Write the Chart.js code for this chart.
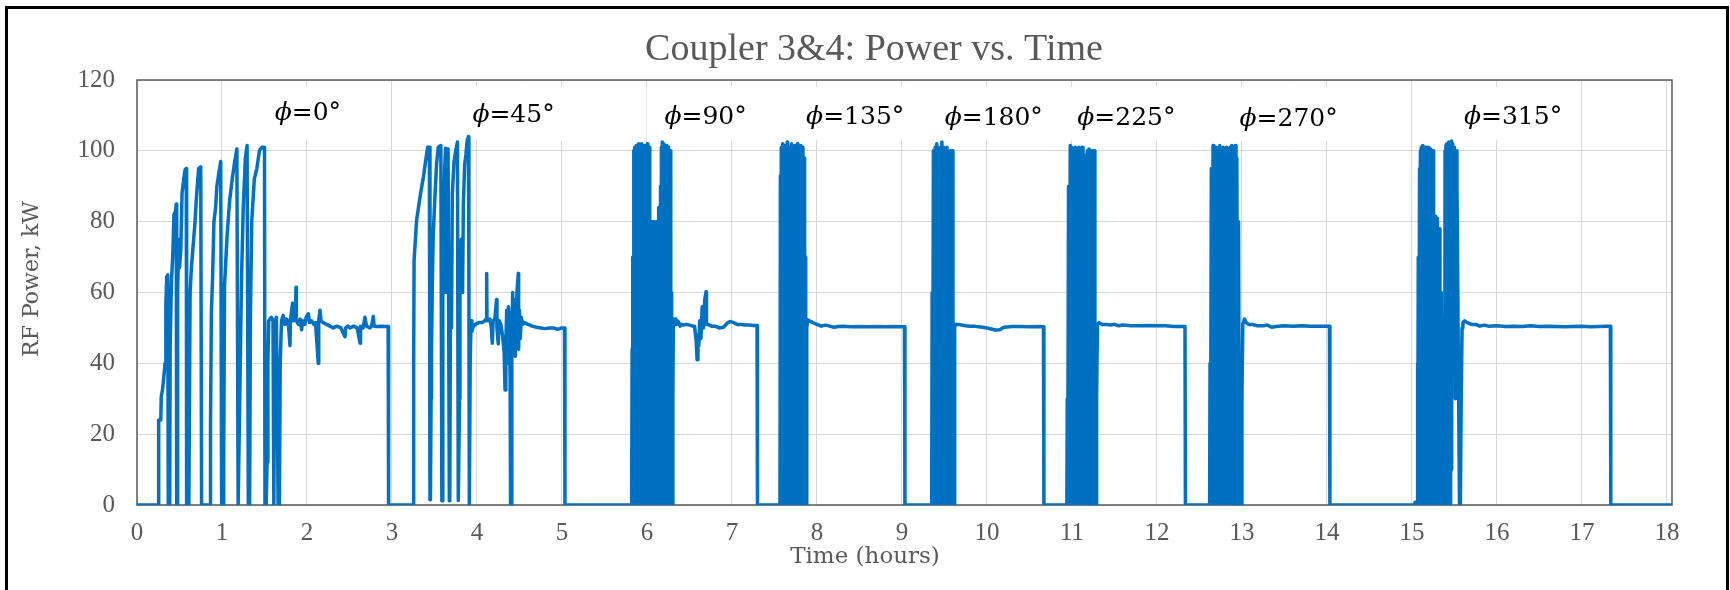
<!DOCTYPE html>
<html>
<head>
<meta charset="utf-8">
<title>Coupler 3&amp;4: Power vs. Time</title>
<script src="https://cdn.jsdelivr.net/npm/chart.js@4.4.1/dist/chart.umd.min.js"></script>
<style>
  html, body { margin: 0; padding: 0; background: #fff; overflow: hidden; }
  #wrap { position: relative; width: 1730px; height: 590px; }
  #frame { position: absolute; left: 5px; top: 6px; width: 1718px; height: 640px; border: 3px solid #000; pointer-events: none; }
  canvas { position: absolute; left: 0; top: 0; }
</style>
</head>
<body>
<div id="wrap">
  <canvas id="mycanvas" width="1730" height="590"></canvas>
  <div id="frame"></div>
</div>
<script>
// [hours, kW], one array per phase run
var run0 = [
  [0,0],[0.25,0],[0.255,24],[0.28,24],[0.285,30.6],[0.30,32.5],[0.315,36],[0.33,40],[0.34,57],[0.35,64.5],[0.362,65],[0.368,0],
  [0.385,0],[0.39,45],[0.405,63],[0.42,70],[0.435,82],[0.455,83],[0.462,85],[0.467,0],
  [0.475,0],[0.478,60],[0.49,75],[0.50,67],[0.515,72],[0.53,88],[0.55,92],[0.565,94.6],[0.58,95],[0.584,0],
  [0.61,0],[0.62,41],[0.625,60],[0.64,67],[0.66,73],[0.68,79],[0.70,87],[0.725,95],[0.75,95.5],[0.76,0],
  [0.86,0],[0.865,22],[0.875,54],[0.89,65],[0.905,80],[0.925,84],[0.94,90],[0.965,94],[0.985,97],[0.996,0],
  [1.015,0],[1.02,13],[1.03,62],[1.06,76],[1.09,86],[1.12,92],[1.15,97],[1.175,100.5],[1.19,0],
  [1.20,0],[1.215,40],[1.23,64],[1.25,84],[1.275,98],[1.295,101.5],[1.31,0],
  [1.325,0],[1.335,55],[1.35,80],[1.38,92],[1.41,95],[1.44,100],[1.47,101],[1.50,101],[1.506,0],
  [1.52,0],[1.53,12],[1.54,40],[1.55,52],[1.58,53],[1.60,52],[1.61,0],[1.615,30],[1.625,52],[1.64,53],[1.65,30],[1.66,0],[1.675,0],[1.685,40],[1.70,52],
  [1.72,53.5],[1.74,51],[1.76,52.5],[1.78,51.5],[1.80,45],[1.805,52],[1.82,55],[1.83,57],[1.84,52],[1.86,53],[1.871,61.5],[1.875,52],
  [1.90,51],[1.92,52.5],[1.937,49.5],[1.95,52],[1.976,51],[1.99,53],[2.016,54],[2.03,51.5],[2.055,52],[2.08,51],[2.10,51.5],
  [2.133,40],[2.138,52],[2.153,55],[2.165,52],[2.19,51.5],[2.23,51],[2.27,50.5],[2.31,50],[2.35,50.5],[2.40,50],[2.447,47.5],
  [2.455,50],[2.48,50.5],[2.506,50],[2.55,50.5],[2.59,50],[2.624,45.7],[2.63,50.5],[2.66,50],[2.682,53],[2.70,50.5],[2.741,50],
  [2.76,50.5],[2.78,53.2],[2.79,50.5],[2.82,50.4],[2.87,50.5],[2.92,50.4],[2.955,50.4],[2.96,0]
];
var run45 = [
  [3.0,0],[3.25,0],[3.255,40],[3.26,69],[3.29,80.5],[3.33,87],[3.37,92.7],[3.395,97],[3.42,101],[3.44,101],[3.447,1.5],
  [3.452,1.5],[3.46,30],[3.465,43],[3.475,63],[3.485,76],[3.505,87],[3.525,96.5],[3.545,101],[3.575,101.5],[3.587,1.2],
  [3.592,1.2],[3.598,62],[3.61,80],[3.62,95],[3.63,100.7],[3.635,60],[3.645,92],[3.66,100.5],[3.67,100.5],[3.675,1.2],
  [3.68,1.3],[3.69,70],[3.70,50],[3.71,88],[3.73,97],[3.75,100],[3.77,102.5],[3.78,1.3],
  [3.785,1.3],[3.795,30],[3.80,60],[3.815,75],[3.83,60],[3.84,85],[3.855,96],[3.87,99],[3.885,103],[3.90,104],[3.905,60],[3.91,0],
  [3.915,0],[3.92,40],[3.93,52],[3.94,49],[3.957,50.4],[3.98,51],[4.02,51.5],[4.06,51.5],[4.09,52],[4.11,52.5],[4.114,65.4],[4.118,52],
  [4.15,52.5],[4.17,50],[4.18,45.7],[4.19,52],[4.21,52.5],[4.23,58],[4.235,50],[4.25,45.5],[4.26,52],[4.28,51],[4.30,48],[4.32,43],
  [4.33,32.5],[4.34,46],[4.35,55],[4.36,40],[4.37,56],[4.38,53],[4.39,36],[4.395,0],[4.405,0],[4.41,45],[4.42,60],[4.43,48],
  [4.44,58],[4.45,42],[4.47,60],[4.486,65.4],[4.49,44],[4.50,55],[4.51,47],[4.52,53],[4.54,51],[4.56,51.5],[4.60,51],[4.65,50.5],
  [4.70,50.2],[4.75,50],[4.80,49.8],[4.85,50],[4.90,50],[4.95,49.6],[5.0,50],[5.03,50],[5.035,0]
];
var run90 = [
  [5.1,0],[5.82,0],[5.825,44],[5.83,0.5],[5.835,70],[5.84,0],[5.845,100],[5.85,1],[5.855,101],[5.86,0],[5.865,100.5],[5.87,1],
  [5.875,101.5],[5.88,0],[5.885,98],[5.89,0.5],[5.895,101],[5.90,0],[5.905,102],[5.91,1],[5.915,100],[5.92,0],[5.925,101],[5.93,1],
  [5.935,102],[5.94,0],[5.945,96],[5.95,0.5],[5.955,99],[5.96,0],[5.965,85],[5.97,0],[5.975,101.5],[5.98,0.5],[5.985,93],[5.99,0],
  [5.995,95],[6.00,0],[6.005,102],[6.01,0],[6.015,100],[6.02,1],[6.025,101],[6.03,0],[6.035,60],[6.04,0],
  [6.05,0.5],[6.06,80],[6.065,0],[6.075,0.5],[6.08,80],[6.085,40],[6.09,80],[6.095,0],[6.10,0.5],[6.11,60],[6.115,80],[6.12,0],
  [6.125,20],[6.13,63],[6.135,82],[6.14,84],[6.145,0.5],
  [6.15,0],[6.16,90],[6.165,0.5],[6.17,101],[6.175,1],[6.18,102.5],[6.19,0],[6.195,102],[6.20,1],[6.205,100],[6.21,0],[6.215,101],
  [6.22,0.5],[6.225,99],[6.23,0],[6.235,101.5],[6.24,0],[6.245,100],[6.25,0.5],[6.255,101],[6.26,0],[6.265,95],[6.27,0],[6.275,100],
  [6.28,0],[6.285,60],[6.29,0],
  [6.30,0],[6.305,30],[6.31,52],[6.32,52.5],[6.33,51],[6.34,52.5],[6.35,51],[6.36,52],[6.375,51.5],[6.39,50.5],[6.41,51],[6.43,50.8],
  [6.46,51],[6.50,50.8],[6.54,50.5],[6.56,50.5],[6.58,46],[6.59,41],[6.60,48],[6.61,45],[6.62,52],[6.635,47],[6.65,56],[6.665,50],
  [6.68,58],[6.695,60.2],[6.70,51],[6.72,51],[6.76,50.5],[6.80,50.5],[6.85,50],[6.90,50.2],[6.95,51.5],[6.98,51.8],[7.02,51.5],
  [7.06,51],[7.10,51],[7.15,50.8],[7.20,50.8],[7.25,50.7],[7.295,50.7],[7.30,0]
];
var run135 = [
  [7.565,0],[7.57,93],[7.575,0.5],[7.58,101],[7.59,0],[7.595,102],[7.60,1],[7.61,100],[7.615,0],[7.62,101.5],[7.63,0.5],[7.635,101],
  [7.64,0],[7.65,102.5],[7.655,1],[7.66,100],[7.67,0],[7.675,96],[7.68,0.5],[7.69,101],[7.695,0],[7.70,102],[7.71,0],[7.715,101],
  [7.72,0.5],[7.73,100],[7.735,0],[7.74,101.5],[7.75,1],[7.755,101],[7.76,0],[7.77,102],[7.775,0.5],[7.78,100],[7.79,0],[7.795,101],
  [7.80,1],[7.81,101.5],[7.815,0],[7.82,100],[7.83,0.5],[7.835,101],[7.84,0],[7.85,98],[7.855,10],[7.86,70],[7.865,0],[7.868,60],[7.87,0],
  [7.875,0],[7.88,50],[7.89,52.3],[7.91,52],[7.95,51.5],[8.0,51],[8.05,50.5],[8.10,50.8],[8.15,50.5],[8.20,50.2],[8.25,50.4],
  [8.30,50.5],[8.40,50.3],[8.50,50.4],[8.60,50.3],[8.70,50.4],[8.80,50.3],[8.90,50.4],[9.00,50.3],[9.03,50.3],[9.035,0]
];
var run180 = [
  [9.35,0],[9.355,60],[9.36,0.5],[9.37,100],[9.38,0],[9.39,101],[9.40,1],[9.41,102],[9.42,0],[9.43,101],[9.44,0.5],[9.45,100.5],
  [9.46,0],[9.47,102.5],[9.48,1],[9.49,101],[9.50,0],[9.51,100],[9.52,0.5],[9.53,101],[9.54,0],[9.55,93],[9.56,0.5],[9.57,100],
  [9.58,0],[9.59,100],[9.60,0],[9.605,50],[9.61,0],
  [9.615,0],[9.62,50],[9.63,51],[9.66,51],[9.70,50.8],[9.75,50.6],[9.80,50.5],[9.85,50.5],[9.90,50.3],[9.95,50.2],[10.0,50],
  [10.05,49.7],[10.10,49.4],[10.15,49.5],[10.2,50.2],[10.3,50.4],[10.4,50.4],[10.5,50.3],[10.6,50.4],[10.665,50.3],[10.67,0]
];
var run225 = [
  [10.94,0],[10.945,30],[10.95,0.5],[10.96,90],[10.97,0],[10.98,101.5],[10.99,1],[11.0,101],[11.01,0],[11.02,100],[11.03,0.5],
  [11.04,101],[11.05,0],[11.06,100.5],[11.07,1],[11.08,101],[11.09,0],[11.10,100],[11.11,0.5],[11.12,101],[11.13,0],[11.14,99],
  [11.15,1],[11.16,92],[11.17,0],[11.18,100],[11.19,0.5],[11.20,100.5],[11.21,0],[11.22,100],[11.23,1],[11.24,100],[11.25,0],
  [11.26,100],[11.27,20],[11.275,0],
  [11.285,0],[11.29,30],[11.30,51],[11.32,51.5],[11.35,51],[11.40,51],[11.45,50.8],[11.50,51],[11.55,50.6],[11.60,50.8],
  [11.70,50.6],[11.80,50.6],[11.90,50.7],[12.0,50.6],[12.1,50.6],[12.2,50.4],[12.3,50.4],[12.33,50.4],[12.335,0]
];
var run270 = [
  [12.62,0],[12.625,40],[12.63,0.5],[12.64,95],[12.65,0],[12.66,101.5],[12.67,1],[12.68,101],[12.69,0],[12.70,101],[12.71,0.5],
  [12.72,100],[12.73,0],[12.74,101.5],[12.75,1],[12.76,100],[12.77,0],[12.78,101],[12.79,0.5],[12.80,99],[12.81,0],[12.82,101],
  [12.83,1],[12.84,100],[12.85,0],[12.86,101],[12.87,0.5],[12.88,101.5],[12.89,0],[12.90,100.5],[12.91,0.5],[12.92,101.5],[12.93,0],
  [12.94,98],[12.95,1],[12.96,80],[12.97,0],[12.98,40],[12.985,0],
  [12.99,0],[13.0,30],[13.01,51],[13.03,52.5],[13.05,51.5],[13.08,51],[13.12,51],[13.18,50.6],[13.25,50.6],[13.30,50.8],
  [13.35,50.2],[13.40,50.4],[13.50,50.6],[13.60,50.5],[13.70,50.6],[13.80,50.5],[13.90,50.5],[14.0,50.5],[14.03,50.5],[14.035,0]
];
var run315 = [
  [15.03,0],[15.035,0.8],[15.06,0.8],[15.065,40],[15.07,0.5],[15.075,70],[15.08,0],[15.09,95],[15.095,1],[15.10,100],[15.105,0],
  [15.11,101],[15.115,0],[15.12,100],[15.125,0.5],[15.13,101.5],[15.135,0],[15.14,99],[15.145,0],[15.15,101],[15.155,1],[15.16,100],
  [15.165,0],[15.17,101],[15.175,0.5],[15.18,98],[15.185,0],[15.19,100.5],[15.195,0],[15.20,101],[15.205,0],[15.21,99],[15.215,0.5],
  [15.22,100.5],[15.225,0],[15.235,97],[15.24,0],[15.25,100],[15.255,0],[15.26,80],[15.27,0.5],[15.28,81.5],[15.29,0],[15.30,81],
  [15.31,0],[15.32,78],[15.33,0],[15.345,60],[15.355,0],[15.37,0],[15.38,40],[15.385,0],[15.39,100],[15.40,101.5],[15.405,0.5],
  [15.41,102],[15.415,20],[15.42,101],[15.425,1],[15.43,102.5],[15.435,0],[15.44,101],[15.445,1],[15.45,102],[15.455,0],
  [15.46,101.5],[15.465,10],[15.47,102.8],[15.475,40],[15.48,102],[15.49,60],[15.50,101],[15.51,30],[15.52,100],[15.53,90],
  [15.54,60],[15.55,30],[15.56,0],[15.57,0],[15.58,30],[15.59,50],
  [15.60,51.5],[15.62,52],[15.65,51.5],[15.70,51],[15.75,51],[15.80,50.5],[15.85,50.8],[15.90,50.5],[16.0,50.6],[16.1,50.4],
  [16.2,50.5],[16.3,50.4],[16.4,50.6],[16.5,50.4],[16.6,50.5],[16.7,50.4],[16.8,50.3],[16.9,50.4],[17.0,50.5],[17.1,50.3],
  [17.2,50.4],[17.3,50.5],[17.335,50.5],[17.34,0],[18.06,0]
];

// axis ticks
var hourTicks = [0, 1, 2, 3, 4, 5, 6, 7, 8, 9, 10, 11, 12, 13, 14, 15, 16, 17, 18];

// phase labels written on the plot
var phaseLabels = ['0°', '45°', '90°', '135°', '180°', '225°', '270°', '315°'];
var labelHours = [2.01, 4.43, 6.69, 8.45, 10.08, 11.64, 13.55, 16.19];
var labelKW = [108.6, 108.2, 107.6, 107.6, 107.3, 107.3, 107.0, 107.6];

var chartTitle = 'Coupler 3&4: Power vs. Time';
var xTitle = 'Time (hours)';
var yTitle = 'RF Power, kW';

var grey = '#595959';
Chart.defaults.font.family = '"Liberation Serif", "Times New Roman", serif';
Chart.defaults.color = grey;

var points = [];
[run0, run45, run90, run135, run180, run225, run270, run315].forEach(function(run) {
	for (var i in run) {
		points.push({ x: run[i][0], y: run[i][1] });
	}
});

var phasePlugin = {
	id: 'phasePlugin',
	beforeDatasetsDraw: function(chart) {
		var ctx = chart.ctx;
		var area = chart.chartArea;
		var xs = chart.scales.x;
		var ys = chart.scales.y;
		ctx.save();
		// white text boxes (they hide the grid behind the labels)
		var boxTop = ys.getPixelForValue(118);
		var boxBottom = ys.getPixelForValue(103);
		for (var i = 0; i < phaseLabels.length; i++) {
			ctx.font = 'italic 25px "DejaVu Serif"';
			var phiW = ctx.measureText('ϕ').width;
			ctx.font = '25px "DejaVu Serif"';
			var rest = '=' + phaseLabels[i];
			var restW = ctx.measureText(rest).width;
			var w = phiW + restW;
			var left = xs.getPixelForValue(labelHours[i]) - w / 2;
			var base = ys.getPixelForValue(labelKW[i]);
			ctx.fillStyle = '#ffffff';
			ctx.fillRect(left - 18, boxTop, w + 36, boxBottom - boxTop);
			ctx.fillStyle = '#000000';
			ctx.textAlign = 'left';
			ctx.textBaseline = 'alphabetic';
			ctx.font = 'italic 25px "DejaVu Serif"';
			ctx.fillText('ϕ', left, base);
			ctx.font = '25px "DejaVu Serif"';
			ctx.fillText(rest, left + phiW, base);
		}
		// plot area border
		ctx.strokeStyle = grey;
		ctx.lineWidth = 1.5;
		ctx.strokeRect(area.left, area.top, area.right - area.left, area.bottom - area.top);
		ctx.restore();
	},
	afterDraw: function(chart) {
		var ctx = chart.ctx;
		ctx.save();
		ctx.fillStyle = grey;
		ctx.textAlign = 'center';
		ctx.textBaseline = 'alphabetic';
		// chart title, centred on the whole chart frame
		ctx.font = '38px "Liberation Serif"';
		ctx.fillText(chartTitle, 874, 60);
		// axis titles
		ctx.font = '23px "DejaVu Serif"';
		ctx.fillText(xTitle, 865, 563);
		ctx.font = '22px "DejaVu Serif"';
		ctx.translate(38, 279);
		ctx.rotate(-Math.PI / 2);
		ctx.fillText(yTitle, 0, 0);
		ctx.restore();
	}
};

var ctx = document.getElementById('mycanvas');

var LineGraph = new Chart(ctx, {
	type: 'line',
	data: {
		datasets: [
			{
				label: 'RF Power',
				data: points,
				borderColor: '#0070C0',
				backgroundColor: '#0070C0',
				borderWidth: 3.5,
				borderJoinStyle: 'round',
				borderCapStyle: 'round',
				pointRadius: 0,
				fill: false,
				tension: 0
			}
		]
	},
	plugins: [phasePlugin],
	options: {
		responsive: false,
		animation: false,
		events: [],
		layout: { padding: { left: 0, right: 58, top: 80, bottom: 0 } },
		plugins: {
			legend: { display: false },
			tooltip: { enabled: false },
			title: { display: false }
		},
		scales: {
			x: {
				type: 'linear',
				min: 0,
				max: 18.06,
				ticks: { padding: 13, color: grey, font: { size: 25 } },
				grid: { color: '#d9d9d9', lineWidth: 1, drawTicks: false },
				border: { display: false },
				afterBuildTicks: function(scale) {
					scale.ticks = hourTicks.map(function(v) { return { value: v }; });
				},
				afterFit: function(scale) { scale.height = 85; }
			},
			y: {
				min: 0,
				max: 120,
				ticks: { stepSize: 20, padding: 22, color: grey, font: { size: 25 } },
				grid: { color: '#d9d9d9', lineWidth: 1, drawTicks: false },
				border: { display: false },
				afterFit: function(scale) { scale.width = 137; }
			}
		}
	}
});
</script>
</body>
</html>
